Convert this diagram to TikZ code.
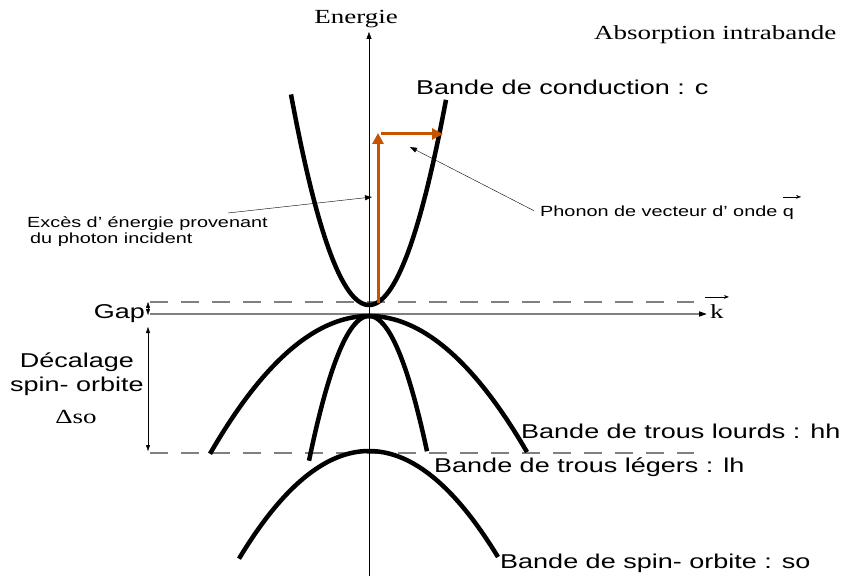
\documentclass[tikz,border=0pt]{standalone}
\usepackage{fontspec}
\setmainfont{Liberation Serif}[FakeStretch=1.35]
\setsansfont{Liberation Sans}[FakeStretch=1.35]
\usetikzlibrary{arrows.meta}
\definecolor{phot}{RGB}{196,84,0}
\begin{document}
\begin{tikzpicture}[x=1pt,y=-1pt,
  band/.style={line width=4.5pt},
  lead/.style={thin, -{Triangle[length=7pt,width=5pt]}},
  dimarr/.style={thin, {Triangle[length=6pt,width=4pt]}-{Triangle[length=6pt,width=4pt]}},
  lvl/.style={gray, line width=1.3pt, dash pattern=on 18pt off 13pt},
  photarr/.style={phot, line width=3pt, -{Triangle[length=11pt,width=11pt]}},
  lblbig/.style={font=\sffamily\fontsize{20}{24}\selectfont, inner sep=0pt},
  lblsmall/.style={font=\sffamily\fontsize{14.7}{17}\selectfont, inner sep=0pt},
  lblserif/.style={font=\rmfamily\fontsize{20}{24}\selectfont, inner sep=0pt}]
\useasboundingbox (0,0) rectangle (842,577);
% axes and levels
\coordinate (ebot) at (369,576); \coordinate (etop) at (369,32);
\coordinate (kl) at (150,314); \coordinate (kr) at (707,314);
\draw[lvl] (150,302) -- (694,302);
\draw[lvl] (150,453) -- (694,453);
\draw[gray, line width=1.6pt, -{Triangle[color=black,length=8pt,width=5pt]}] (kl) -- (kr);
\draw[-{Triangle[length=7pt,width=5pt]}] (ebot) -- (etop);
\node[lblserif, anchor=base] (energ) at (356,24) {Energie};
\node[lblserif, anchor=base west] (k) at (710,318) {k};
\draw[-{Stealth[length=5pt]}] ([xshift=-5pt,yshift=7pt]k.north west) -- ([xshift=5pt,yshift=7pt]k.north east);
\node[lblserif, anchor=base west] (titl) at (594,40) {Absorption intrabande};
% bands
\draw[band] plot[domain=-78:77, samples=80] ({369+\x},{305-0.0346*\x*\x});
\draw[band] plot[domain=-60:58, samples=60] ({369+\x},{316+0.0402*\x*\x});
\draw[band] plot[domain=-15.9:15.8, samples=80] ({369+10*\x},{316+0.545*\x*\x});
\draw[band] plot[domain=-13:12.9, samples=80] ({369+10*\x},{451+0.637*\x*\x});
% photon and phonon
\coordinate (pfoot) at (378,303); \coordinate (ptop) at (378,133);
\coordinate (qfoot) at (381,134); \coordinate (qtip) at (443,134);
\draw[photarr] (pfoot) -- (ptop);
\draw[photarr] (qfoot) -- (qtip);
% labels
\node[lblbig, anchor=base west] (cond) at (416,95) {Bande de conduction : c};
\node[lblbig, anchor=base west] (hh) at (521,438) {Bande de trous lourds : hh};
\node[lblbig, anchor=base west] (lh) at (434,472) {Bande de trous légers : lh};
\node[lblbig, anchor=base west] (so) at (500,568) {Bande de spin- orbite : so};
\node[lblbig, anchor=base east] (gap) at (145,318) {Gap};
\node[lblbig, anchor=base] (deca1) at (77,367) {Décalage};
\node[lblbig, anchor=base] (deca2) at (77,391) {spin- orbite};
\node[lblserif, anchor=base] (dso) at (76,423) {Δso};
\node[lblsmall, anchor=base west] (exc1) at (27,227) {Excès d’ énergie provenant};
\node[lblsmall, anchor=base west] (exc2) at (30,243) {du photon incident};
\node[lblsmall, anchor=base west] (phon) at (540,216) {Phonon de vecteur d’ onde};
\node[lblsmall, anchor=base west] (q) at ([xshift=5pt]phon.base east) {q};
\draw[-{Stealth[length=5pt]}] ([xshift=0pt,yshift=11pt]q.north west) -- ([xshift=7pt,yshift=11pt]q.north east);
% leaders and gaps
\coordinate (excfoot) at (228,213); \coordinate (exctip) at (372,197);
\coordinate (phontip) at (410,147);
\draw[lead] (excfoot) -- (exctip);
\draw[lead] ([xshift=-6pt]phon.west) -- (phontip);
\coordinate (g1) at (148,302); \coordinate (g2) at (148,315);
\coordinate (s1) at (148,327); \coordinate (s2) at (148,451);
\draw[dimarr] (g1) -- (g2);
\draw[dimarr] (s1) -- (s2);
\end{tikzpicture}
\end{document}
